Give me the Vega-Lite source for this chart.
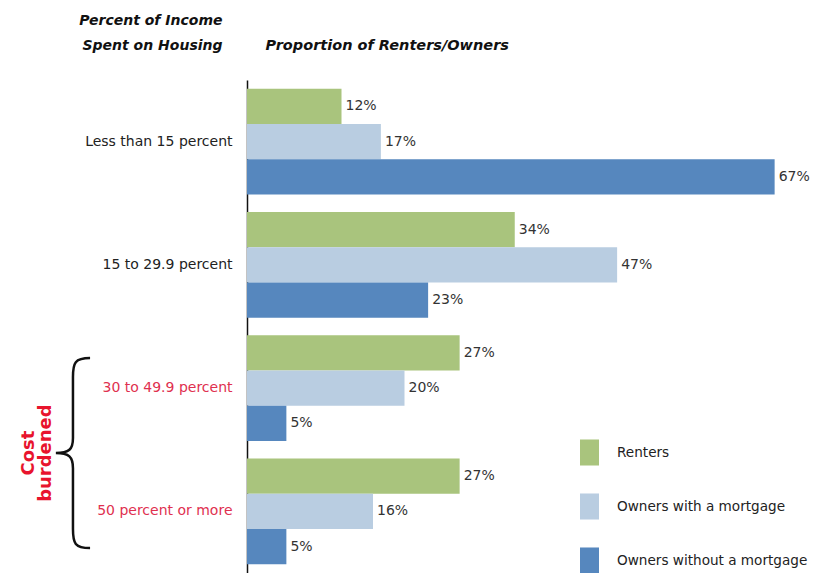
{
  "$schema": "https://vega.github.io/schema/vega-lite/v6.json",
  "width": 567,
  "height": 493,
  "autosize": "none",
  "padding": {"left": 247, "top": 80, "right": 2, "bottom": 0},
  "background": "white",
  "config": {"view": {"stroke": null}, "font": "DejaVu Sans"},
  "data": {
    "values": [
      {"income": "Less than 15 percent", "group": "Renters", "share": 0.12},
      {"income": "Less than 15 percent", "group": "Owners with a mortgage", "share": 0.17},
      {"income": "Less than 15 percent", "group": "Owners without a mortgage", "share": 0.67},
      {"income": "15 to 29.9 percent", "group": "Renters", "share": 0.34},
      {"income": "15 to 29.9 percent", "group": "Owners with a mortgage", "share": 0.47},
      {"income": "15 to 29.9 percent", "group": "Owners without a mortgage", "share": 0.23},
      {"income": "30 to 49.9 percent", "group": "Renters", "share": 0.27},
      {"income": "30 to 49.9 percent", "group": "Owners with a mortgage", "share": 0.20},
      {"income": "30 to 49.9 percent", "group": "Owners without a mortgage", "share": 0.05},
      {"income": "50 percent or more", "group": "Renters", "share": 0.27},
      {"income": "50 percent or more", "group": "Owners with a mortgage", "share": 0.16},
      {"income": "50 percent or more", "group": "Owners without a mortgage", "share": 0.05}
    ]
  },
  "encoding": {
    "y": {
      "field": "income",
      "type": "nominal",
      "sort": ["Less than 15 percent", "15 to 29.9 percent", "30 to 49.9 percent", "50 percent or more"],
      "scale": {"paddingInner": 0.14, "paddingOuter": 0.07},
      "axis": {
        "title": ["Percent of Income", "Spent on Housing"],
        "titleAngle": 0,
        "titleAlign": "right",
        "titleBaseline": "top",
        "titleX": -25,
        "titleY": -67,
        "titleFont": "DejaVu Sans",
        "titleFontSize": 14,
        "titleFontWeight": "bold",
        "titleFontStyle": "italic",
        "titleColor": "#111",
        "titleLineHeight": 25,
        "ticks": false,
        "labelPadding": 15,
        "labelFontSize": 14,
        "labelColor": {
          "condition": {"test": "indexof(datum.value, '30 to') === 0 || indexof(datum.value, '50 percent') === 0", "value": "#e0304f"},
          "value": "#222"
        },
        "domainColor": "#111",
        "domainWidth": 1.5,
        "grid": false
      }
    }
  },
  "layer": [
    {
      "mark": {"type": "bar", "cornerRadius": 0},
      "encoding": {
        "x": {
          "field": "share",
          "type": "quantitative",
          "scale": {"domain": [0, 0.72], "nice": false},
          "axis": {
            "orient": "top",
            "title": "Proportion of Renters/Owners",
            "titleAnchor": "start",
            "titleAlign": "left",
            "titleBaseline": "middle",
            "titleX": 18,
            "titleY": -35,
            "titleFont": "DejaVu Sans",
            "titleFontSize": 14.5,
            "titleFontWeight": "bold",
            "titleFontStyle": "italic",
            "titleColor": "#111",
            "labels": false,
            "ticks": false,
            "domain": false,
            "grid": false
          }
        },
        "yOffset": {
          "field": "group",
          "type": "nominal",
          "sort": ["Renters", "Owners with a mortgage", "Owners without a mortgage"],
          "scale": {"paddingInner": 0, "paddingOuter": 0}
        },
        "color": {
          "field": "group",
          "type": "nominal",
          "sort": ["Renters", "Owners with a mortgage", "Owners without a mortgage"],
          "scale": {
            "domain": ["Renters", "Owners with a mortgage", "Owners without a mortgage"],
            "range": ["#a9c47d", "#b9cde1", "#5687be"]
          },
          "legend": {
            "title": null,
            "orient": "none",
            "legendX": 333,
            "legendY": 363,
            "symbolType": "M-1,-1.37H1V1.37H-1Z",
            "symbolSize": 361,
            "symbolStrokeWidth": 0,
            "symbolOpacity": 1,
            "rowPadding": 27,
            "labelFontSize": 13.6,
            "labelColor": "#222",
            "labelOffset": 18,
            "labelLimit": 300
          }
        }
      }
    },
    {
      "mark": {"type": "text", "align": "left", "baseline": "middle", "dx": 4, "fontSize": 14, "color": "#333"},
      "encoding": {
        "x": {"field": "share", "type": "quantitative"},
        "yOffset": {
          "field": "group",
          "type": "nominal",
          "sort": ["Renters", "Owners with a mortgage", "Owners without a mortgage"]
        },
        "text": {"field": "share", "type": "quantitative", "format": ".0%"}
      }
    },
    {
      "data": {"values": [{"note": "brace"}]},
      "mark": {
        "type": "point",
        "shape": "M0.18,-1C0.02,-1 0,-0.95 0,-0.8L0,-0.16C0,-0.04 -0.04,0 -0.18,0C-0.04,0 0,0.04 0,0.16L0,0.8C0,0.95 0.02,1 0.18,1",
        "size": 36100,
        "filled": false,
        "stroke": "#111",
        "strokeWidth": 2.5,
        "opacity": 1,
        "clip": false
      },
      "encoding": {
        "x": {"datum": -0.221, "type": "quantitative"},
        "y": {"datum": "50 percent or more", "bandPosition": -0.05}
      }
    },
    {
      "data": {"values": [{"note": "Cost burdened"}]},
      "mark": {
        "type": "text",
        "text": ["Cost", "burdened"],
        "angle": 270,
        "align": "center",
        "baseline": "middle",
        "lineHeight": 17,
        "fontSize": 18,
        "fontWeight": "bold",
        "color": "#e8142d",
        "clip": false
      },
      "encoding": {
        "x": {"datum": -0.277, "type": "quantitative"},
        "y": {"datum": "50 percent or more", "bandPosition": -0.05}
      }
    }
  ]
}
